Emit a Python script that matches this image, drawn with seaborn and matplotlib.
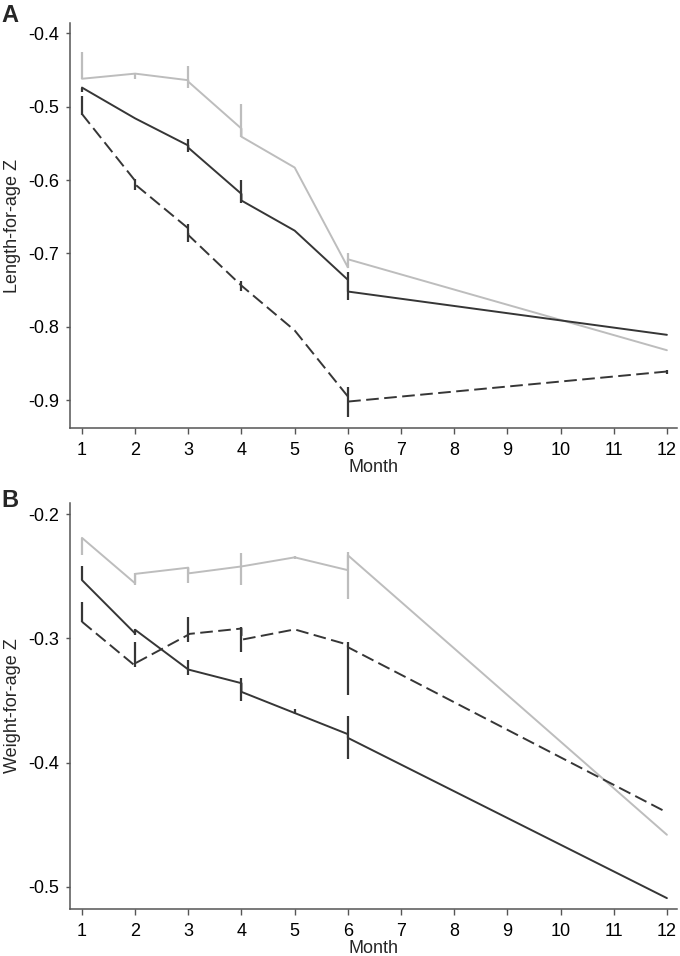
import numpy as np
import pandas as pd
import matplotlib
matplotlib.use("Agg")
import matplotlib.pyplot as plt
import seaborn as sns

# ---------------- data ----------------
knot_months = [1, 2, 3, 4, 5, 6]
end_month = 12
month_ticks = list(range(1, 13))

# Panel A: Length-for-age Z
laz_light_arrive = [-0.462, -0.455, -0.464, -0.530, -0.583, -0.719]
laz_light_depart = [-0.462, -0.455, -0.466, -0.541, -0.583, -0.708]
laz_light_end = -0.832
laz_light_lo = [-0.462, -0.462, -0.475, -0.541, np.nan, -0.720, np.nan]
laz_light_hi = [-0.425, -0.455, -0.444, -0.497, np.nan, -0.700, np.nan]

laz_solid_arrive = [-0.474, -0.516, -0.553, -0.619, -0.669, -0.736]
laz_solid_depart = [-0.474, -0.516, -0.556, -0.628, -0.669, -0.752]
laz_solid_end = -0.811
laz_solid_lo = [-0.480, np.nan, -0.562, -0.632, np.nan, -0.764, np.nan]
laz_solid_hi = [-0.474, np.nan, -0.544, -0.600, np.nan, -0.726, np.nan]

laz_dash_arrive = [-0.510, -0.601, -0.666, -0.744, -0.805, -0.895]
laz_dash_depart = [-0.510, -0.606, -0.675, -0.744, -0.805, -0.902]
laz_dash_end = -0.861
laz_dash_lo = [-0.511, -0.614, -0.685, -0.751, np.nan, -0.923, -0.865]
laz_dash_hi = [-0.486, -0.598, -0.660, -0.737, np.nan, -0.882, -0.859]

# Panel B: Weight-for-age Z
waz_light_arrive = [-0.219, -0.2556, -0.243, -0.242, -0.2347, -0.245]
waz_light_depart = [-0.219, -0.248, -0.2476, -0.242, -0.2347, -0.233]
waz_light_end = -0.458
waz_light_lo = [-0.233, -0.257, -0.2556, -0.257, -0.2360, -0.268, np.nan]
waz_light_hi = [-0.219, -0.2475, -0.243, -0.2314, -0.2340, -0.230, np.nan]

waz_solid_arrive = [-0.253, -0.296, -0.325, -0.336, -0.360, -0.377]
waz_solid_depart = [-0.253, -0.293, -0.325, -0.343, -0.360, -0.380]
waz_solid_end = -0.509
waz_solid_lo = [-0.253, -0.297, -0.329, -0.350, -0.361, -0.397, np.nan]
waz_solid_hi = [-0.242, -0.292, -0.317, -0.332, -0.357, -0.362, np.nan]

waz_dash_arrive = [-0.2865, -0.322, -0.297, -0.292, -0.2927, -0.305]
waz_dash_depart = [-0.2865, -0.320, -0.2964, -0.301, -0.2927, -0.307]
waz_dash_end = -0.440
waz_dash_lo = [-0.2865, -0.3228, -0.3026, -0.3107, np.nan, -0.3456, np.nan]
waz_dash_hi = [-0.2704, -0.3026, -0.2825, -0.2905, np.nan, -0.3026, np.nan]

laz_yticks = [-0.4, -0.5, -0.6, -0.7, -0.8, -0.9]
waz_yticks = [-0.2, -0.3, -0.4, -0.5]

# ---------------- style ----------------
sns.set_style("ticks")
plt.rcParams['font.family'] = ['Liberation Sans', 'DejaVu Sans']
plt.rcParams['axes.unicode_minus'] = False

LIGHT = "#bdbdbd"
DARK = "#363636"
SPINE = "#555555"


def build(arrive, depart, end):
    xs, ys = [], []
    for m, a, d in zip(knot_months, arrive, depart):
        xs += [m, m]
        ys += [a, d]
    xs.append(end_month)
    ys.append(end)
    return pd.DataFrame({"Month": xs, "z": ys})


def draw_series(ax, arrive, depart, end, lo, hi, color, dashed):
    df = build(arrive, depart, end)
    sns.lineplot(data=df, x="Month", y="z", sort=False, estimator=None,
                 color=color, lw=1.4, ax=ax,
                 linestyle=(0, (6.5, 2.8)) if dashed else "-")
    bx = knot_months + [end_month]
    ax.vlines(bx, lo, hi, colors=color, lw=1.6)


fig = plt.figure(figsize=(6.8, 9.56), dpi=100)
axA = fig.add_axes([70 / 680, 1 - 428 / 956, 607 / 680, 405 / 956])
axB = fig.add_axes([70 / 680, 1 - 909.3 / 956, 607 / 680, 406.6 / 956])

draw_series(axA, laz_light_arrive, laz_light_depart, laz_light_end, laz_light_lo, laz_light_hi, LIGHT, False)
draw_series(axA, laz_solid_arrive, laz_solid_depart, laz_solid_end, laz_solid_lo, laz_solid_hi, DARK, False)
draw_series(axA, laz_dash_arrive, laz_dash_depart, laz_dash_end, laz_dash_lo, laz_dash_hi, DARK, True)

draw_series(axB, waz_light_arrive, waz_light_depart, waz_light_end, waz_light_lo, waz_light_hi, LIGHT, False)
draw_series(axB, waz_solid_arrive, waz_solid_depart, waz_solid_end, waz_solid_lo, waz_solid_hi, DARK, False)
draw_series(axB, waz_dash_arrive, waz_dash_depart, waz_dash_end, waz_dash_lo, waz_dash_hi, DARK, True)

for ax, yt, ylim, ylab in [(axA, laz_yticks, (-0.938, -0.386), "Length-for-age Z"),
                           (axB, waz_yticks, (-0.518, -0.1907), "Weight-for-age Z")]:
    ax.set_xlim(0.775, 12.19)
    ax.set_ylim(*ylim)
    ax.set_xticks(month_ticks)
    ax.set_xticklabels([str(m) for m in month_ticks])
    ax.set_yticks(yt)
    ax.set_yticklabels([f"{v:.1f}" for v in yt])
    ax.tick_params(axis="both", labelsize=13, colors=SPINE, labelcolor="black",
                   width=1.0)
    ax.tick_params(axis="x", length=4.0, pad=6)
    ax.tick_params(axis="y", length=3.0, pad=5)
    ax.set_xlabel("Month", fontsize=13, labelpad=0)
    ax.set_ylabel(ylab, fontsize=13)
    ax.yaxis.set_label_coords(-0.0815, 0.5)
    for s in ["left", "bottom"]:
        ax.spines[s].set_color(SPINE)
        ax.spines[s].set_linewidth(1.1)
    sns.despine(ax=ax)

fig.text(1 / 680, 1 - 22 / 956, "A", fontsize=17, fontweight="bold", va="baseline", ha="left")
fig.text(1 / 680, 1 - 507 / 956, "B", fontsize=17, fontweight="bold", va="baseline", ha="left")

fig.savefig("out.png", dpi=100)
